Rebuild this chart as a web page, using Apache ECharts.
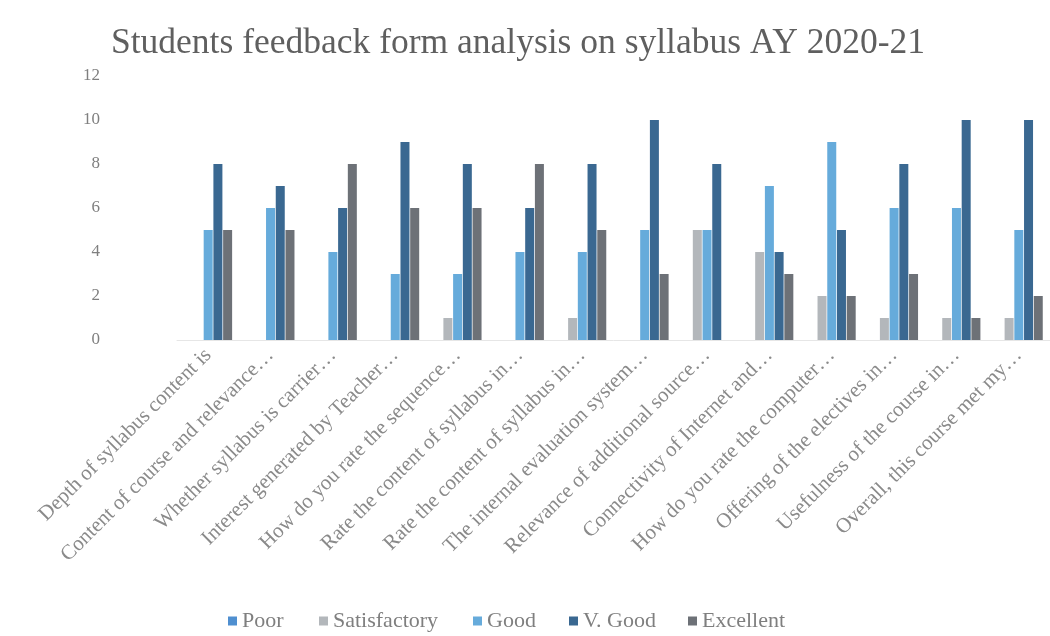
<!DOCTYPE html>
<html>
<head>
<meta charset="utf-8">
<script src="https://cdn.jsdelivr.net/npm/echarts@6/dist/echarts.min.js"></script>
<style>
  html, body { margin: 0; padding: 0; background: #ffffff; }
  #chart { width: 1050px; height: 636px; }
</style>
</head>
<body>
<div id="chart"></div>
<script>
// Questions on the feedback form (long ones shortened as on the axis)
const categories = [
  'Depth of syllabus content is',
  'Content of course and relevance…',
  'Whether syllabus is carrier…',
  'Interest generated by Teacher…',
  'How do you rate the sequence…',
  'Rate the content of syllabus in…',
  'Rate the content of syllabus in…',
  'The internal evaluation system…',
  'Relevance of additional source…',
  'Connectivity of Internet and…',
  'How do you rate the computer…',
  'Offering of the electives in…',
  'Usefulness of the course in…',
  'Overall, this course met my…'
];

// Number of students giving each rating
const poor         = [0, 0, 0, 0, 0, 0, 0, 0, 0, 0, 0, 0, 0, 0];
const satisfactory = [0, 0, 0, 0, 1, 0, 1, 0, 5, 4, 2, 1, 1, 1];
const good         = [5, 6, 4, 3, 3, 4, 4, 5, 5, 7, 9, 6, 6, 5];
const vGood        = [8, 7, 6, 9, 8, 6, 8, 10, 8, 4, 5, 8, 10, 10];
const excellent    = [5, 5, 8, 6, 6, 8, 5, 3, 0, 3, 2, 3, 1, 2];

const yTicks = { min: 0, max: 12, interval: 2 };

const seriesNames  = ['Poor', 'Satisfactory', 'Good', 'V. Good', 'Excellent'];
const seriesData   = [poor, satisfactory, good, vGood, excellent];
const seriesColors = ['#4f8fd0', '#b3b7bb', '#66abdb', '#3a6891', '#6d7177'];

// Left edge of each legend entry along the bottom row
const legendLeft = [228, 319, 473, 569, 688];

const serif = '"Liberation Serif", "DejaVu Serif", serif';

const chart = echarts.init(document.getElementById('chart'), null, { renderer: 'canvas' });

chart.setOption({
  animation: false,
  backgroundColor: '#ffffff',
  title: {
    text: 'Students feedback form analysis on syllabus AY 2020-21',
    left: 106,
    top: 21,
    textStyle: { fontFamily: serif, fontSize: 35.5, fontWeight: 'normal', color: '#5f5f5f' }
  },
  legend: seriesNames.map((name, i) => ({
    data: [name],
    left: legendLeft[i],
    top: 610,
    itemWidth: 9,
    itemHeight: 9,
    icon: 'rect',
    padding: 0,
    textStyle: { fontFamily: serif, fontSize: 22, color: '#7f7f7f', padding: [2, 0, 0, 0] }
  })),
  grid: { left: 177, width: 886, top: 76, height: 264, containLabel: false },
  xAxis: {
    type: 'category',
    data: categories,
    axisLine: { show: true, lineStyle: { color: '#e6e6e6', width: 1 } },
    axisTick: { show: false },
    axisLabel: {
      interval: 0,
      rotate: 45,
      margin: 12,
      fontFamily: serif,
      fontSize: 21,
      color: '#8a8a8a'
    }
  },
  yAxis: {
    type: 'value',
    min: yTicks.min,
    max: yTicks.max,
    interval: yTicks.interval,
    axisLine: { show: false },
    axisTick: { show: false },
    splitLine: { show: false },
    axisLabel: { margin: 77, fontFamily: serif, fontSize: 17, color: '#7f7f7f' }
  },
  series: seriesNames.map((name, i) => ({
    name: name,
    type: 'bar',
    data: seriesData[i],
    barWidth: 9,
    barGap: '8%',
    itemStyle: { color: seriesColors[i] }
  }))
});
</script>
</body>
</html>
